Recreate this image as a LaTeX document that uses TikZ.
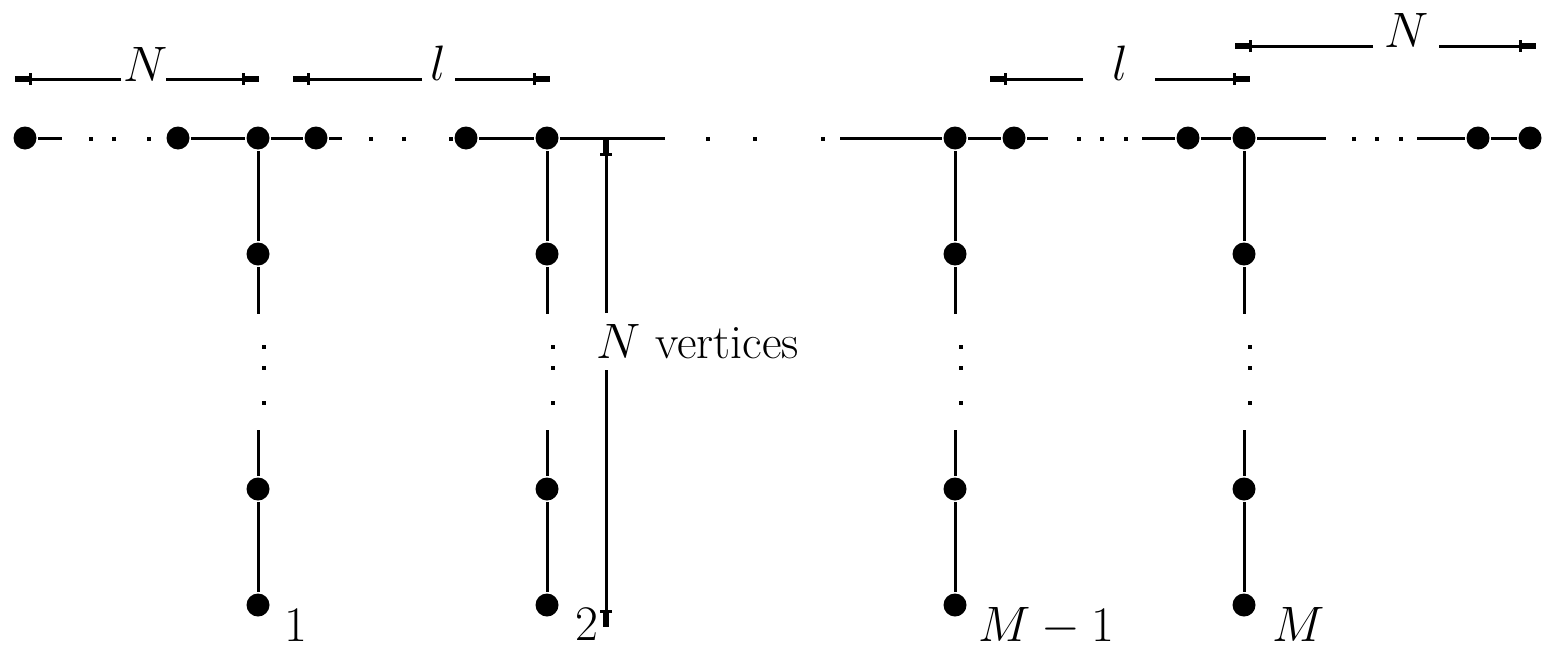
\documentclass[tikz,border=0pt]{standalone}
\usetikzlibrary{arrows.meta}
\begin{document}
\begin{tikzpicture}[x=0.5pt,y=-0.5pt,line width=1.5pt,
  vtx/.style={circle,fill,inner sep=0pt,minimum size=11.5pt},
  dt/.style={rectangle,fill,inner sep=0pt,minimum width=1.8pt,minimum height=2.4pt},
  lab/.style={font=\fontsize{24}{28}\selectfont,inner sep=0pt},
  dimarr/.style={-{Bar[width=6pt,line width=1.5pt,sep=0pt]Rectangle[length=7pt,width=3pt,sep=0pt]}}]
\useasboundingbox (0,0) rectangle (1551,648);
% top row vertices
\foreach \n/\x in {r1/25,r2/178,r3/258,r4/316,r5/466,r6/547,r7/955,r8/1014,r9/1188,r10/1244,r11/1478,r12/1530}
  \node[vtx] (\n) at (\x,138) {};
% gap coordinates on the row
\coordinate (g1) at (62,138);
\coordinate (g2) at (342,138);
\coordinate (g3) at (665,138);
\coordinate (g4) at (840,138);
\coordinate (g5) at (1048,138);
\coordinate (g6) at (1142,138);
\coordinate (g7) at (1326,138);
\coordinate (g8) at (1417,138);
\draw (r1) -- (g1);
\draw (r2) -- (r3) -- (r4) -- (g2);
\draw (r5) -- (r6) -- (g3);
\draw (g4) -- (r7) -- (r8) -- (g5);
\draw (g6) -- (r9) -- (r10) -- (g7);
\draw (g8) -- (r11) -- (r12);
% dots on the row
\foreach \x [count=\k] in {91,114,149,371,404,451,708,755,823,1079,1102,1126,1354,1377,1401}
  \node[dt] (hd\k) at (\x,139) {};
% columns
\foreach \x/\t/\i in {258/r3/1,547/r6/2,955/r7/3,1244/r10/4}{
  \node[vtx] (a\i) at (\x,254) {};
  \node[vtx] (b\i) at (\x,489) {};
  \node[vtx] (e\i) at (\x,605) {};
  \coordinate (ca\i) at (\x,314);
  \coordinate (cb\i) at (\x,430);
  \draw (\t) -- (a\i) -- (ca\i);
  \draw (cb\i) -- (b\i) -- (e\i);
  \node[dt] (vd\i a) at (\x+6,347) {};
  \node[dt] (vd\i b) at (\x+6,368) {};
  \node[dt] (vd\i c) at (\x+6,403) {};
}
% bottom labels
\node[lab,anchor=base west] (L1) at (283,641) {$1$};
\node[lab,anchor=base west] (L2) at (574,640) {$2$};
\node[lab,anchor=base west] (L3) at (977,641) {$M-1$};
\node[lab,anchor=base west] (L4) at (1271,641) {$M$};
% top dimension arrows
\node[lab,anchor=base] (tN1) at (146,81) {$N$};
\node[lab,anchor=base] (tl1) at (438,80) {$l$};
\node[lab,anchor=base] (tl2) at (1120,80) {$l$};
\node[lab,anchor=base] (tN2) at (1407,47) {$N$};
\coordinate (a1t) at (15,79);   \coordinate (a1i) at (121,79);
\coordinate (a1j) at (166,79);  \coordinate (a1u) at (259,79);
\coordinate (a2t) at (293,79);  \coordinate (a2i) at (422,79);
\coordinate (a2j) at (455,79);  \coordinate (a2u) at (550,79);
\coordinate (a3t) at (990,79);  \coordinate (a3i) at (1083,79);
\coordinate (a3j) at (1155,79); \coordinate (a3u) at (1250,79);
\coordinate (a4t) at (1235,46); \coordinate (a4i) at (1373,46);
\coordinate (a4j) at (1439,46); \coordinate (a4u) at (1536,46);
\draw[dimarr] (a1i) -- (a1t);
\draw[dimarr] (a1j) -- (a1u);
\draw[dimarr] (a2i) -- (a2t);
\draw[dimarr] (a2j) -- (a2u);
\draw[dimarr] (a3i) -- (a3t);
\draw[dimarr] (a3j) -- (a3u);
\draw[dimarr] (a4i) -- (a4t);
\draw[dimarr] (a4j) -- (a4u);
% vertical dimension arrow
\node[lab,anchor=base west] (NV) at (595,358) {$N$ vertices};
\coordinate (vt) at (606,139);
\coordinate (vi) at (606,313);
\coordinate (vj) at (606,370);
\coordinate (vb) at (606,627);
\draw[dimarr] (vi) -- (vt);
\draw[dimarr] (vj) -- (vb);
\end{tikzpicture}
\end{document}
